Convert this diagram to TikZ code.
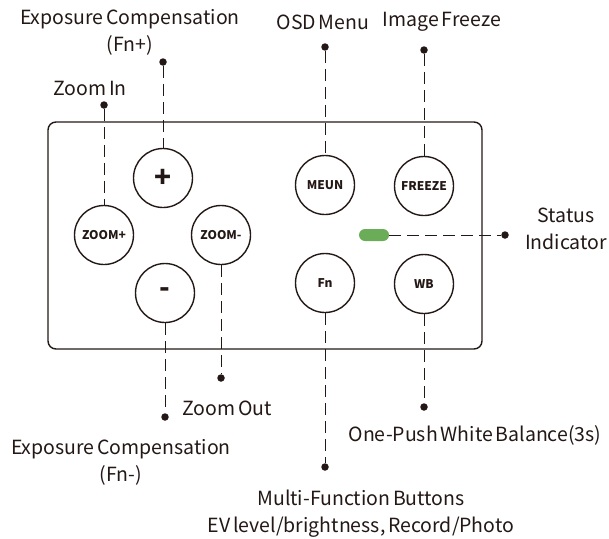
\documentclass[tikz,border=0pt]{standalone}
\usepackage{fontspec}
\setmainfont{Noto Sans CJK SC}[WordSpace=0.65]
\definecolor{ink}{HTML}{231815}
\definecolor{ledgreen}{HTML}{6AAC58}
\begin{document}
\begin{tikzpicture}[x=1pt,y=-1pt]
    \tikzstyle{btn}=[draw=ink,line width=1.4pt,shape=circle,minimum size=59pt,inner sep=0pt,text=ink,font=\bfseries\fontsize{12}{13}\selectfont];
    \tikzstyle{dot}=[fill=ink,shape=circle,minimum size=7.5pt,inner sep=0pt];
    \tikzstyle{lbl}=[text=ink,align=center,inner sep=0pt,font=\fontsize{19.5}{27}\selectfont];
    \tikzstyle{leader}=[draw=ink,line width=1pt,dash pattern=on 12pt off 6pt];
    \useasboundingbox (0,0) rectangle (609,538);

    % housing
    \draw[ink,line width=1.4pt,rounded corners=8pt] (48,122) rectangle (482,349);

    % buttons
    \node at (163, 178) (plus)  [btn,font=\bfseries\fontsize{28}{28}\selectfont] {+};
    \node at (104, 235) (zin)   [btn] {ZOOM+};
    \node at (221, 235) (zout)  [btn] {ZOOM-};
    \node at (165, 293) (minus) [btn,font=\bfseries\fontsize{28}{28}\selectfont] {-};
    \node at (325, 185) (meun)  [btn] {MEUN};
    \node at (424, 186) (frz)   [btn] {FREEZE};
    \node at (325, 283) (fn)    [btn] {Fn};
    \node at (424, 284) (wb)    [btn] {WB};
    \node at (374, 235) (led)   [fill=ledgreen,rounded corners=6pt,minimum width=30pt,minimum height=12pt,inner sep=0pt] {};

    % end dots
    \node at (163, 62)  (dFnp)  [dot] {};
    \node at (104, 105) (dZin)  [dot] {};
    \node at (325, 47)  (dOsd)  [dot] {};
    \node at (424, 50)  (dFrz)  [dot] {};
    \node at (505, 235) (dSta)  [dot] {};
    \node at (221, 378) (dZout) [dot] {};
    \node at (165, 417) (dFnm)  [dot] {};
    \node at (424, 407) (dWb)   [dot] {};
    \node at (325, 467) (dFn)   [dot] {};

    % labels
    \node at (130, 32)  (lFnp)  [lbl] {Exposure Compensation\\(Fn+)};
    \node at (90, 88)   (lZin)  [lbl] {Zoom In};
    \node at (323, 22)  (lOsd)  [lbl] {OSD Menu};
    \node at (442, 22)  (lFrz)  [lbl] {Image Freeze};
    \node at (566, 229) (lSta)  [lbl] {Status\\Indicator};
    \node at (227, 408) (lZout) [lbl] {Zoom Out};
    \node at (121, 462) (lFnm)  [lbl] {Exposure Compensation\\(Fn-)};
    \node at (475, 435) (lWb)   [lbl] {One-Push White Balance(3s)};
    \node at (361, 514) (lFn)   [lbl] {Multi-Function Buttons\\EV level/brightness, Record/Photo};

    % leaders
    \draw[leader] (dFnp) -- (plus);
    \draw[leader] (dZin) -- (zin);
    \draw[leader] (dOsd) -- (meun);
    \draw[leader] (dFrz) -- (frz);
    \draw[leader] (led) -- (dSta);
    \draw[leader] (zout) -- (dZout);
    \draw[leader] (minus) -- (dFnm);
    \draw[leader] (wb) -- (dWb);
    \draw[leader] (fn) -- (dFn);
\end{tikzpicture}
\end{document}
